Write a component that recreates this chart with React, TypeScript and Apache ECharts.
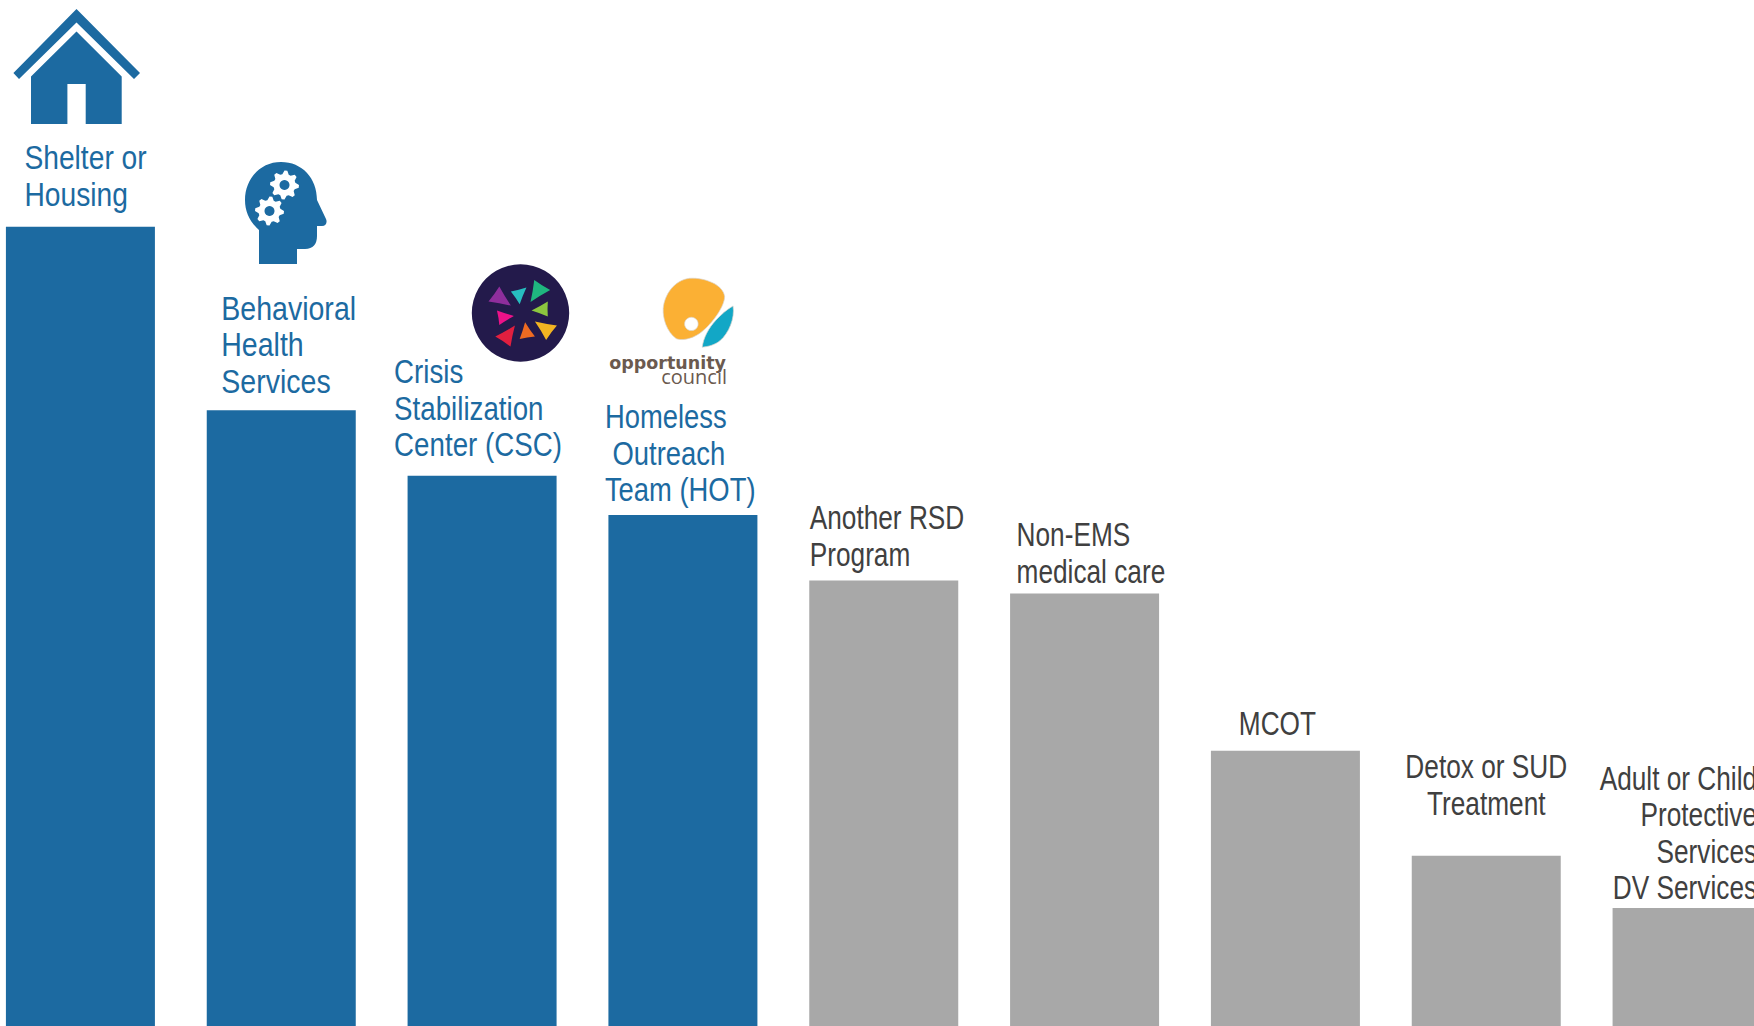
import React, { useEffect, useRef } from "react";
import * as echarts from "echarts";

const BLUE = "#1C6AA1";
const GRAY = "#A8A8A8";
const TEXT_GRAY = "#404040";

const categories = [
  "Shelter or\nHousing",
  "Behavioral\nHealth\nServices",
  "Crisis\nStabilization\nCenter (CSC)",
  "Homeless\n\u00a0Outreach\nTeam (HOT)",
  "Another RSD\nProgram",
  "Non-EMS\nmedical care",
  "MCOT",
  "Detox or SUD\nTreatment",
  "Adult or Child\nProtective\nServices\nDV Services",
];
const values = [61, 47, 42, 39, 34, 33, 21, 13, 9];
const highlighted = [true, true, true, true, false, false, false, false, false];

// label placement relative to the bar's top centre: [align, dx, dy, horizontal squeeze]
const labelLayout: [string, number, number, number][] = [
  ["left", -56, -14, 0.855],
  ["left", -60, -10, 0.865],
  ["left", -88, -13, 0.84],
  ["left", -78, -7, 0.83],
  ["left", -74, -8, 0.795],
  ["left", -68, -4, 0.795],
  ["center", -8, -9, 0.795],
  ["center", 0, -34, 0.795],
  ["right", 70, -2, 0.795],
];

const PAGE_SHIFT = 20;

function gearPath(cx: number, cy: number, r: number, teeth: number) {
  const pts: string[] = [];
  const n = teeth * 4;
  for (let i = 0; i < n; i++) {
    const a = (i / n) * Math.PI * 2;
    const rad = i % 4 < 2 ? r : r * 0.76;
    pts.push(`${(cx + Math.cos(a) * rad).toFixed(2)} ${(cy + Math.sin(a) * rad).toFixed(2)}`);
  }
  return "M" + pts.join("L") + "Z";
}

const HEAD =
  "M259 264 L297 264 L297 249 L305 249 C313 249 317 244 317 236 L317 226 L322 226 C326 226 327.5 222 326 219 L317 200 C317 178 302 162 281 162 C260 162 245 179 245 200 C245 212 250 222 259 230 Z";

function wedge(a: number[], b: number[], c: number[]) {
  const mx = (a[0] + b[0] + c[0]) / 3;
  const my = (a[1] + b[1] + c[1]) / 3;
  const q = (p: number[], s: number[]) =>
    `Q${((p[0] + s[0]) / 2) * 0.9 + mx * 0.1} ${((p[1] + s[1]) / 2) * 0.9 + my * 0.1} ${s[0]} ${s[1]}`;
  return `M${a[0]} ${a[1]}${q(a, b)}${q(b, c)}${q(c, a)}Z`;
}

const WEDGES: [string, number[], number[], number[]][] = [
  ["#8E2E9C", [352, 140], [386, 197], [320, 185]],
  ["#27BDBF", [386, 155], [432, 143], [412, 193]],
  ["#1FB67F", [455, 120], [502, 150], [444, 186]],
  ["#8CC63F", [495, 185], [495, 230], [447, 212]],
  ["#F2B422", [457, 245], [522, 257], [490, 300]],
  ["#EF6B22", [428, 247], [457, 290], [412, 297]],
  ["#E11F3F", [398, 257], [385, 320], [340, 290]],
  ["#EC1289", [345, 212], [395, 228], [352, 255]],
];

const BLOB =
  "M930 115 C975 112 1030 135 1033 170 C1034 195 1000 250 960 280 C935 298 905 303 890 296 C862 275 850 235 852 205 C855 165 885 120 930 115 Z";
const LEAF =
  "M1058 198 C1064 235 1045 280 1020 302 C1005 315 985 320 967 322 C970 295 985 265 1008 240 C1022 225 1040 208 1058 198 Z";

function shape(name: string, d: string, style: any, z = 10): any {
  echarts.graphic.registerShape(name, echarts.graphic.extendPath(d as any, {}) as any);
  return { type: name, x: 0, y: 0, style, z };
}

export default function App() {
  const ref = useRef<HTMLDivElement>(null);
  useEffect(() => {
    document.body.style.margin = "0";
    document.body.style.overflow = "hidden";
    const chart = echarts.init(ref.current!, undefined, { renderer: "svg" });
    chart.setOption({
      animation: false,
      backgroundColor: "#ffffff",
      grid: { left: 0, top: 0, width: 1807.5, height: 1026, containLabel: false },
      xAxis: { type: "category", data: categories, show: false },
      yAxis: { type: "value", min: 0, max: 78.3, show: false },
      series: [
        {
          type: "bar",
          barWidth: 149,
          data: values.map((v, i) => ({
            value: v,
            itemStyle: { color: highlighted[i] ? BLUE : GRAY },
          })),
        },
        {
          type: "custom",
          silent: true,
          clip: false,
          z: 5,
          data: values.map((v, i) => [i, v]),
          renderItem: (_p: any, api: any) => {
            const i = api.value(0);
            const pt = api.coord([i, api.value(1)]);
            const [align, dx, dy, squeeze] = labelLayout[i];
            return {
              type: "text",
              x: pt[0] + dx,
              y: pt[1] + dy,
              scaleX: squeeze,
              style: {
                text: categories[i],
                fill: highlighted[i] ? BLUE : TEXT_GRAY,
                fontFamily: '"Liberation Sans"',
                fontSize: 33,
                lineHeight: 36.6,
                textAlign: align,
                textVerticalAlign: "bottom",
              },
            };
          },
        },
      ],
      graphic: [
        {
          type: "group",
          x: PAGE_SHIFT,
          y: 0,
          z: 10,
          children: [
            {
              type: "polygon",
              shape: {
                points: [
                  [76.5, 9],
                  [140, 73],
                  [134, 79],
                  [76.5, 22.5],
                  [19, 79],
                  [13.4, 73],
                ],
              },
              style: { fill: BLUE },
            },
            {
              type: "polygon",
              shape: {
                points: [
                  [76.5, 31.5],
                  [121.7, 76.5],
                  [121.7, 124],
                  [85.7, 124],
                  [85.7, 84],
                  [67.4, 84],
                  [67.4, 124],
                  [31, 124],
                  [31, 76.5],
                ],
              },
              style: { fill: BLUE },
            },
            shape("head", HEAD, { fill: BLUE }),
            shape("gearA", gearPath(284.5, 185, 14.5, 8), { fill: "#fff" }, 11),
            shape("gearB", gearPath(269.5, 211, 14.5, 8), { fill: "#fff" }, 11),
            { type: "circle", z: 12, shape: { cx: 284.5, cy: 185, r: 5 }, style: { fill: BLUE } },
            { type: "circle", z: 12, shape: { cx: 269.5, cy: 211, r: 5 }, style: { fill: BLUE } },
            { type: "circle", z: 10, shape: { cx: 520.5, cy: 313, r: 48.7 }, style: { fill: "#231A4B" } },
            {
              type: "group",
              x: 380,
              y: 240,
              scaleX: 1 / 2.95,
              scaleY: 1 / 3,
              z: 11,
              children: WEDGES.map(([fill, a, b, c], i) =>
                shape("wedge" + i, wedge(a, b, c), { fill }, 11)
              ),
            },
            {
              type: "group",
              x: 374.4,
              y: 240,
              scaleX: 1 / 2.95,
              scaleY: 1 / 3,
              z: 11,
              children: [
                shape("blob", BLOB, { fill: "#FBB034", stroke: "#D9D4CC", lineWidth: 2 }, 11),
                shape("leaf", LEAF, { fill: "#12A7C6", stroke: "#D9D4CC", lineWidth: 2 }, 11),
                { type: "circle", z: 12, shape: { cx: 935, cy: 252, r: 20 }, style: { fill: "#fff", stroke: "#D9D4CC", lineWidth: 2 } },
              ],
            },
            {
              type: "text",
              z: 11,
              x: 726,
              y: 372,
              style: {
                text: "opportunity",
                fill: "#6B5A4F",
                font: 'bold 17.5px "DejaVu Sans"',
                textAlign: "right",
                textVerticalAlign: "bottom",
              },
            },
            {
              type: "text",
              z: 11,
              x: 727,
              y: 386,
              style: {
                text: "council",
                fill: "#6B5A4F",
                font: '20px "Open Sans"',
                textAlign: "right",
                textVerticalAlign: "bottom",
              },
            },
          ],
        },
      ],
    });
    return () => chart.dispose();
  }, []);
  return (
    <div style={{ width: 1754, height: 1026, overflow: "hidden", position: "relative" }}>
      <div
        ref={ref}
        style={{ width: 1809, height: 1026, position: "absolute", left: -PAGE_SHIFT, top: 0 }}
      />
    </div>
  );
}
